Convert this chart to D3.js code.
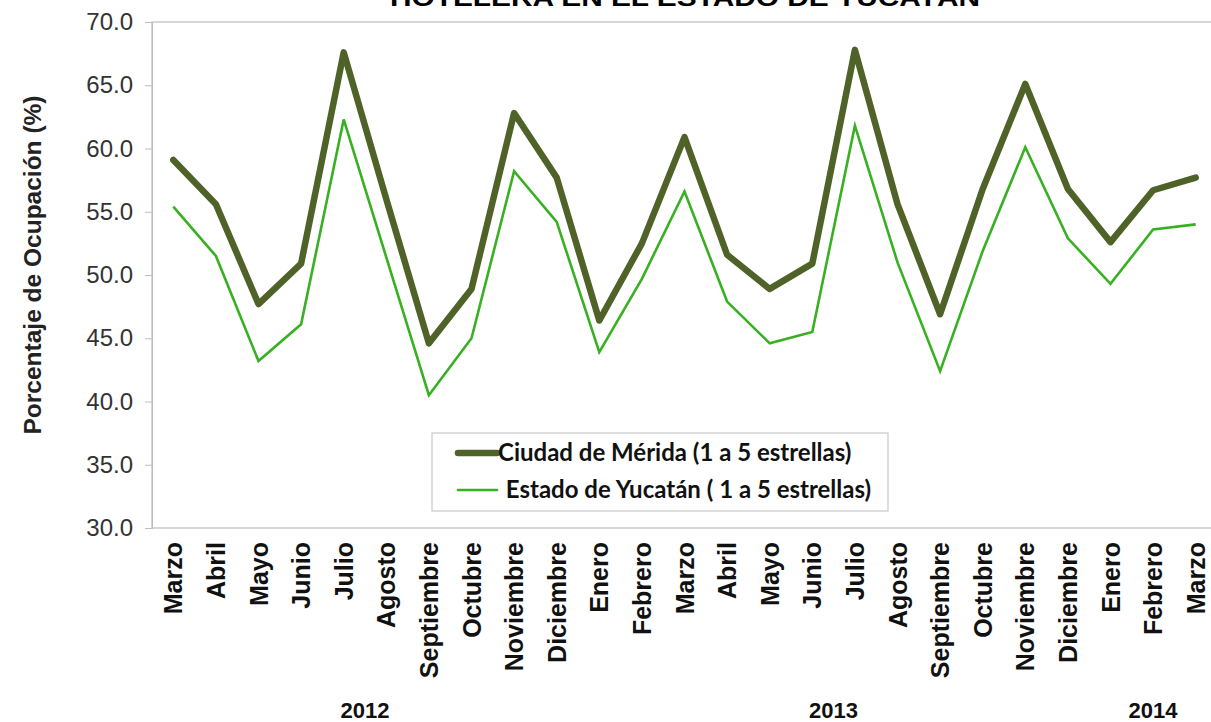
<!DOCTYPE html>
<html>
<head>
<meta charset="utf-8">
<script src="https://cdn.jsdelivr.net/npm/d3@7"></script>
<style>
  html, body { margin: 0; padding: 0; background: #fff; overflow: hidden; }
  svg { display: block; font-family: "Liberation Sans", Arial, sans-serif; }
</style>
</head>
<body>
<svg id="chart" width="1211" height="722"></svg>
<script>
const months = ['Marzo', 'Abril', 'Mayo', 'Junio', 'Julio', 'Agosto', 'Septiembre', 'Octubre',
  'Noviembre', 'Diciembre', 'Enero', 'Febrero', 'Marzo', 'Abril', 'Mayo', 'Junio', 'Julio',
  'Agosto', 'Septiembre', 'Octubre', 'Noviembre', 'Diciembre', 'Enero', 'Febrero', 'Marzo'];
const years = ['2012', '2013', '2014'];
const yearSpans = [[0, 9], [10, 21], [22, 24]];
const merida = [59.1, 55.6, 47.7, 50.9, 67.6, 56.0, 44.6, 48.9, 62.8, 57.7,
  46.4, 52.5, 60.9, 51.6, 48.9, 50.9, 67.8, 55.6, 46.9, 56.8, 65.1, 56.8,
  52.6, 56.7, 57.7];
const yucatan = [55.4, 51.5, 43.2, 46.1, 62.3, 51.4, 40.5, 45.0, 58.2, 54.2,
  43.9, 49.7, 56.6, 47.9, 44.6, 45.5, 61.8, 51.0, 42.4, 51.9, 60.1, 52.9,
  49.3, 53.6, 54.0];
const seriesNames = ['Ciudad de Mérida (1 a 5 estrellas)', ' Estado de Yucatán ( 1 a 5 estrellas)'];
const yTicks = [30, 35, 40, 45, 50, 55, 60, 65, 70];

const svg = d3.select('#chart');
const plotL = 152, plotR = 1217, plotT = 22, plotB = 528;

const x = d3.scaleBand()
  .domain(d3.range(months.length))
  .range([plotL, plotR]);
const y = d3.scaleLinear()
  .domain([30, 70])
  .range([plotB, plotT]);

// title (top line cut off in the original)
svg.append('text')
  .attr('x', 390)
  .attr('y', 6)
  .attr('font-size', 24)
  .attr('font-weight', 'bold')
  .attr('textLength', 590)
  .attr('lengthAdjust', 'spacingAndGlyphs')
  .attr('fill', '#000')
  .text('HOTELERA EN EL ESTADO DE YUCATÁN');

// plot border
svg.append('rect')
  .attr('x', plotL)
  .attr('y', plotT)
  .attr('width', plotR - plotL)
  .attr('height', plotB - plotT)
  .attr('fill', 'none')
  .attr('stroke', '#bdbdbd')
  .attr('stroke-width', 1.2);

const yAxis = d3.axisLeft(y)
  .tickValues(yTicks)
  .tickFormat(d3.format('.1f'))
  .tickSize(7)
  .tickPadding(12);
const gy = svg.append('g')
  .attr('transform', `translate(${plotL},0)`)
  .call(yAxis);
gy.select('.domain').attr('stroke', '#bdbdbd');
gy.selectAll('.tick line').attr('stroke', '#bdbdbd');
gy.selectAll('.tick text')
  .attr('font-size', 24)
  .attr('font-family', '"Liberation Sans", Arial, sans-serif')
  .attr('fill', '#333');

svg.append('text')
  .attr('transform', 'translate(41,265) rotate(-90)')
  .attr('text-anchor', 'middle')
  .attr('font-size', 24.5)
  .attr('font-weight', 'bold')
  .attr('fill', '#222')
  .text('Porcentaje de Ocupación (%)');

// month labels
const xAxis = d3.axisBottom(x)
  .tickFormat(i => months[i])
  .tickSize(0);
const gx = svg.append('g')
  .attr('transform', `translate(0,${plotB})`)
  .call(xAxis);
gx.select('.domain').remove();
gx.selectAll('.tick text')
  .attr('font-size', 25)
  .attr('font-weight', 'bold')
  .attr('font-family', '"Liberation Sans", Arial, sans-serif')
  .attr('fill', '#111')
  .attr('text-anchor', 'end')
  .attr('transform', 'rotate(-90)')
  .attr('x', -14)
  .attr('y', 0)
  .attr('dy', '0.36em');

// year labels
svg.selectAll('.year')
  .data(years)
  .enter()
  .append('text')
  .attr('class', 'year')
  .attr('x', (d, i) => (x(yearSpans[i][0]) + x(yearSpans[i][1]) + x.bandwidth()) / 2)
  .attr('y', 718)
  .attr('text-anchor', 'middle')
  .attr('font-size', 22)
  .attr('font-weight', 'bold')
  .attr('fill', '#111')
  .text(d => d);

const line = d3.line()
  .x((d, i) => x(i) + x.bandwidth() / 2)
  .y(d => y(d));

svg.append('path')
  .datum(yucatan)
  .attr('fill', 'none')
  .attr('stroke', '#37b021')
  .attr('stroke-width', 2.6)
  .attr('d', line);
svg.append('path')
  .datum(merida)
  .attr('fill', 'none')
  .attr('stroke', '#4f6228')
  .attr('stroke-width', 6.5)
  .attr('stroke-linejoin', 'round')
  .attr('stroke-linecap', 'round')
  .attr('d', line);

// legend
const legend = svg.append('g');
legend.append('rect')
  .attr('x', 432)
  .attr('y', 433)
  .attr('width', 456)
  .attr('height', 78)
  .attr('fill', '#fff')
  .attr('stroke', '#c8c8c8')
  .attr('stroke-width', 1.2);
const legendItems = [
  { name: seriesNames[0], color: '#4f6228', width: 6.5, cy: 453, tx: 498 },
  { name: seriesNames[1], color: '#37b021', width: 2.6, cy: 490, tx: 500 }
];
legendItems.forEach(it => {
  legend.append('line')
    .attr('x1', 458).attr('x2', 497)
    .attr('y1', it.cy).attr('y2', it.cy)
    .attr('stroke', it.color)
    .attr('stroke-width', it.width)
    .attr('stroke-linecap', 'round');
  legend.append('text')
    .attr('x', it.tx)
    .attr('y', it.cy)
    .attr('dy', '0.35em')
    .attr('font-family', 'Lato, "Open Sans", sans-serif')
    .attr('font-weight', 'bold')
    .attr('font-size', 24)
    .attr('fill', '#111')
    .attr('xml:space', 'preserve')
    .style('white-space', 'pre')
    .text(it.name);
});
</script>
</body>
</html>
